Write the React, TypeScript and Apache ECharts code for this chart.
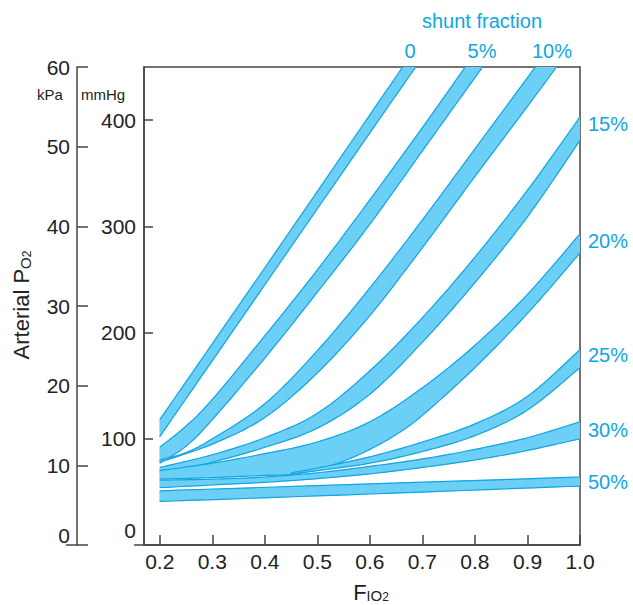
import React, { useEffect, useRef } from "react";
import * as echarts from "echarts";

// ---- axis ticks / labels ----
const xTicks = [0.2, 0.3, 0.4, 0.5, 0.6, 0.7, 0.8, 0.9, 1.0];
const mmHgTicks = [100, 200, 300, 400];
const mmHgLabels = [0, 100, 200, 300, 400];
const kPaTicks = [0, 10, 20, 30, 40, 50, 60];

// ---- shunt bands: [FIO2, arterial PO2 (mmHg)] ----
const band0Upper = [[0.2, 118], [0.4, 261], [0.6, 405], [0.7, 477]];
const band0Lower = [[0.2, 102], [0.4, 245], [0.6, 388], [0.7, 459]];

const band5Upper = [[0.2, 92], [0.25, 112], [0.3, 137], [0.4, 197], [0.5, 259], [0.6, 325], [0.7, 393], [0.8, 463]];
const band5Lower = [[0.2, 77], [0.25, 93], [0.3, 118], [0.4, 176], [0.5, 238], [0.6, 302], [0.7, 371], [0.8, 440], [0.85, 474]];

const band10Upper = [[0.2, 80], [0.25, 87], [0.3, 100], [0.4, 133], [0.5, 183], [0.6, 242], [0.7, 306], [0.8, 373], [0.9, 440], [0.95, 474]];
const band10Lower = [[0.2, 78], [0.3, 95], [0.4, 120], [0.5, 162], [0.6, 216], [0.7, 280], [0.8, 347], [0.9, 413], [1.0, 480]];

const band15Upper = [[0.2, 73], [0.3, 85], [0.4, 101], [0.5, 124], [0.6, 164], [0.7, 214], [0.8, 271], [0.9, 334], [1.0, 403]];
const band15Lower = [[0.2, 67], [0.3, 78], [0.4, 92], [0.5, 110], [0.6, 142], [0.7, 191], [0.8, 247], [0.9, 309], [1.0, 381]];

const band20Upper = [[0.2, 70], [0.3, 77], [0.4, 86], [0.5, 97], [0.6, 116], [0.7, 148], [0.8, 188], [0.9, 236], [1.0, 293]];
const band20Lower = [[0.2, 62], [0.3, 63.5], [0.4, 65.5], [0.45, 66.5], [0.5, 71], [0.55, 79], [0.6, 90], [0.65, 104], [0.7, 122], [0.8, 167], [0.9, 218], [1.0, 275]];

const band25Upper = [[0.45, 68], [0.5, 72.5], [0.6, 83], [0.7, 97], [0.8, 114], [0.9, 140], [1.0, 184]];
const band25Lower = [[0.45, 67], [0.5, 70], [0.6, 77], [0.7, 88], [0.8, 103], [0.9, 127], [1.0, 167]];

const band30Upper = [[0.2, 61], [0.3, 62], [0.4, 64], [0.5, 68], [0.6, 74], [0.7, 81], [0.8, 90], [0.9, 101], [1.0, 116]];
const band30Lower = [[0.2, 54], [0.3, 56.5], [0.4, 59], [0.5, 62.5], [0.6, 67], [0.7, 73], [0.8, 80], [0.9, 89], [1.0, 100]];

const band50Upper = [[0.2, 51], [0.6, 57.5], [1.0, 64]];
const band50Lower = [[0.2, 41], [0.6, 48], [1.0, 55.5]];

const bands = [
  { name: "0", upper: band0Upper, lower: band0Lower },
  { name: "5%", upper: band5Upper, lower: band5Lower },
  { name: "10%", upper: band10Upper, lower: band10Lower },
  { name: "15%", upper: band15Upper, lower: band15Lower },
  { name: "20%", upper: band20Upper, lower: band20Lower },
  { name: "25%", upper: band25Upper, lower: band25Lower },
  { name: "30%", upper: band30Upper, lower: band30Lower },
  { name: "50%", upper: band50Upper, lower: band50Lower },
];

const FILL = "#6ccff6";
const EDGE = "#12a5e0";
const LABEL_BLUE = "#10a6e2";
const AX = "#444";
const TXT = "#222";
const FONT = "'Liberation Sans', Arial, Helvetica, sans-serif";

function spline(pts: number[][]): number[][] {
  if (pts.length < 3) return pts;
  const out: number[][] = [];
  const steps = 10;
  for (let i = 0; i < pts.length - 1; i++) {
    const p0 = pts[i - 1] || pts[i];
    const p1 = pts[i];
    const p2 = pts[i + 1];
    const p3 = pts[i + 2] || pts[i + 1];
    for (let s = 0; s < steps; s++) {
      const t = s / steps;
      const t2 = t * t, t3 = t2 * t;
      const f = (k: number) =>
        0.5 * (2 * p1[k] + (-p0[k] + p2[k]) * t + (2 * p0[k] - 5 * p1[k] + 4 * p2[k] - p3[k]) * t2 + (-p0[k] + 3 * p1[k] - 3 * p2[k] + p3[k]) * t3);
      out.push([f(0), f(1)]);
    }
  }
  out.push(pts[pts.length - 1]);
  return out;
}

export default function App() {
  const ref = useRef<HTMLDivElement>(null);
  useEffect(() => {
    document.body.style.margin = "0";
    const chart = echarts.init(ref.current!, null, { renderer: "svg" });
    const blue = (x: number, y: number, text: string, align: string) => ({
      type: "text", x, y,
      style: { text, fontSize: 20, fill: LABEL_BLUE, fontFamily: FONT, align, verticalAlign: "middle" },
    });
    const option: any = {
      animation: false,
      grid: { left: 144, top: 67, width: 436, height: 478, show: true, borderColor: AX, borderWidth: 1.5, backgroundColor: "transparent" },
      xAxis: {
        type: "value", min: 0.17, max: 1.0,
        axisLine: { show: true, lineStyle: { color: AX, width: 1.5 } },
        axisTick: { show: true, inside: true, length: 10, customValues: xTicks, lineStyle: { color: AX, width: 1.5 } },
        axisLabel: { customValues: xTicks, formatter: (v: number) => v.toFixed(1), fontSize: 21, color: TXT, margin: 6, fontFamily: FONT },
        splitLine: { show: false },
      },
      yAxis: [
        {
          type: "value", min: 0, max: 450, position: "left",
          axisLine: { show: true, lineStyle: { color: AX, width: 1.5 } },
          axisTick: { show: true, inside: true, length: 9, customValues: mmHgTicks, lineStyle: { color: AX, width: 1.5 } },
          axisLabel: {
            customValues: mmHgLabels, fontSize: 21, color: TXT, margin: 8, fontFamily: FONT,
            formatter: (v: number) => (v === 0 ? "{z|0}" : String(v)),
            rich: { z: { fontSize: 21, color: TXT, fontFamily: FONT, padding: [0, 0, 30, 0] } },
          },
          splitLine: { show: false },
        },
        {
          type: "value", min: 0, max: 60, position: "left", offset: 67,
          axisLine: { show: true, lineStyle: { color: AX, width: 1.5 } },
          axisTick: { show: true, inside: true, length: 11, customValues: kPaTicks, lineStyle: { color: AX, width: 1.5 } },
          axisLabel: {
            customValues: kPaTicks, fontSize: 21, color: TXT, margin: 7, fontFamily: FONT,
            formatter: (v: number) => (v === 0 ? "{z|0}" : String(v)),
            rich: { z: { fontSize: 21, color: TXT, fontFamily: FONT, padding: [0, 0, 20, 0] } },
          },
          splitLine: { show: false },
        },
      ],
      series: [
        {
          type: "custom",
          clip: true,
          xAxisIndex: 0,
          yAxisIndex: 0,
          data: bands.map((b) => [b.upper[0][0], b.upper[0][1]]),
          renderItem: (params: any, api: any) => {
            const b = bands[params.dataIndex];
            const up = spline(b.upper.map((p) => api.coord(p)));
            const lo = spline(b.lower.map((p) => api.coord(p)));
            const pts = up.concat(lo.slice().reverse());
            return {
              type: "group",
              children: [
                { type: "polygon", shape: { points: pts }, style: { fill: FILL, stroke: FILL, lineWidth: 0.5 } },
                { type: "polyline", shape: { points: up }, style: { stroke: EDGE, lineWidth: 1.2, fill: null } },
                { type: "polyline", shape: { points: lo }, style: { stroke: EDGE, lineWidth: 1.2, fill: null } },
              ],
            };
          },
        },
      ],
      graphic: [
        { type: "line", shape: { x1: 66, y1: 545, x2: 77, y2: 545 }, style: { stroke: AX, lineWidth: 1.5 } },
        { type: "line", shape: { x1: 134, y1: 545, x2: 144, y2: 545 }, style: { stroke: AX, lineWidth: 1.5 } },
        { type: "text", x: 50, y: 94, style: { text: "kPa", fontSize: 15, fill: TXT, fontFamily: FONT, align: "center", verticalAlign: "middle" } },
        { type: "text", x: 103, y: 94, style: { text: "mmHg", fontSize: 15, fill: TXT, fontFamily: FONT, align: "center", verticalAlign: "middle" } },
        {
          type: "text", x: 20, y: 305, rotation: Math.PI / 2,
          style: {
            text: "{a|Arterial P}{b|O}{c|2}", align: "center", verticalAlign: "middle",
            rich: {
              a: { fontSize: 22, fill: TXT, fontFamily: FONT, lineHeight: 25, verticalAlign: "bottom" },
              b: { fontSize: 15, fill: TXT, fontFamily: FONT, lineHeight: 15, padding: [14, 0, 0, 0], verticalAlign: "bottom" },
              c: { fontSize: 12, fill: TXT, fontFamily: FONT, lineHeight: 12, padding: [20, 0, 0, 0], verticalAlign: "bottom" },
            },
          },
        },
        {
          type: "text", x: 371, y: 592,
          style: {
            text: "{a|F}{i|I}{b|O}{c|2}", align: "center", verticalAlign: "middle",
            rich: {
              a: { fontSize: 22, fill: TXT, fontFamily: FONT, lineHeight: 22, verticalAlign: "bottom" },
              i: { fontSize: 14, fill: TXT, fontFamily: FONT, lineHeight: 14, padding: [8, 0, 0, 0], verticalAlign: "bottom" },
              b: { fontSize: 15, fill: TXT, fontFamily: FONT, lineHeight: 15, padding: [12, 0, 0, 0], verticalAlign: "bottom" },
              c: { fontSize: 12, fill: TXT, fontFamily: FONT, lineHeight: 12, padding: [19, 0, 0, 0], verticalAlign: "bottom" },
            },
          },
        },
        { type: "text", x: 482, y: 21, style: { text: "shunt fraction", fontSize: 20, fill: LABEL_BLUE, fontFamily: FONT, align: "center", verticalAlign: "middle" } },
        blue(410, 51, bands[0].name, "center"),
        blue(482, 51, bands[1].name, "center"),
        blue(552, 51, bands[2].name, "center"),
        blue(588, 124, bands[3].name, "left"),
        blue(588, 241, bands[4].name, "left"),
        blue(588, 355, bands[5].name, "left"),
        blue(588, 430, bands[6].name, "left"),
        blue(588, 482, bands[7].name, "left"),
      ],
    };
    chart.setOption(option);
    return () => chart.dispose();
  }, []);
  return <div ref={ref} style={{ width: 633, height: 605 }} />;
}
